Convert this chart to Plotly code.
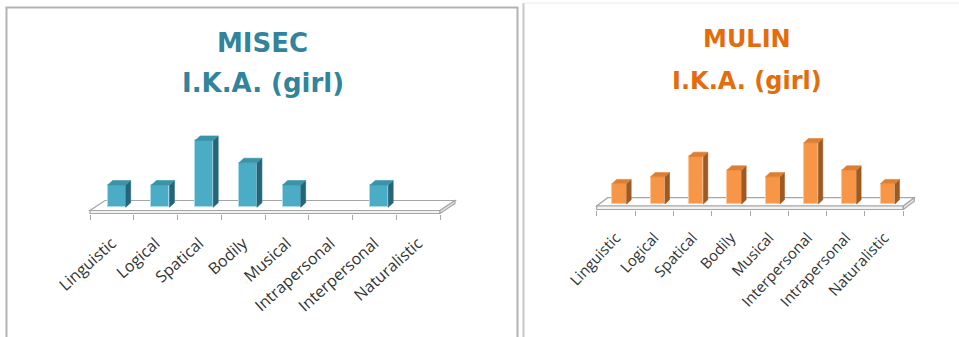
import plotly.graph_objects as go

# ---- data -------------------------------------------------------------
misec_categories = ["Linguistic", "Logical", "Spatical", "Bodily", "Musical",
                    "Intrapersonal", "Interpersonal", "Naturalistic"]
misec_values = [1, 1, 3, 2, 1, 0, 1, 0]

mulin_categories = ["Linguistic", "Logical", "Spatical", "Bodily", "Musical",
                    "Interpersonal", "Intrapersonal", "Naturalistic"]
mulin_values = [3, 4, 7, 5, 4, 9, 5, 3]

misec_title = ["MISEC", "I.K.A. (girl)"]
mulin_title = ["MULIN", "I.K.A. (girl)"]

# ---- page geometry (pixels) -------------------------------------------
W, H = 959, 337


def fx(p):
    return p / W


def fy(p):
    return 1 - p / H


panels = [
    dict(cats=misec_categories, vals=misec_values, title=misec_title,
         front="#4BACC6", side="#23667A", top="#3B93AA", edge="#A9DAE6",
         tcolor="#31849B", tsize=26, tx=262.5, ty=(43, 83),
         lsize=16, langle=-42, lstand=16,
         front_l=90.0, front_r=440.0, edge_y=213.5, slab=3.0,
         floor_dx=15.0, floor_dy=10.0, base_px=207.3, unit_px=22.3,
         bar_w=18.0, bar_shift=4.8, side_dx=5.0, side_dy=4.5,
         dom_l=70.0, dom_r=470.0, dom_top=110.0),
    dict(cats=mulin_categories, vals=mulin_values, title=mulin_title,
         front="#F79646", side="#9E5A22", top="#DC7F33", edge="#FBC79B",
         tcolor="#E46C0A", tsize=24, tx=747.0, ty=(39, 81),
         lsize=15, langle=-47, lstand=15,
         front_l=596.7, front_r=903.3, edge_y=209.5, slab=3.5,
         floor_dx=11.0, floor_dy=8.3, base_px=204.0, unit_px=6.8,
         bar_w=14.4, bar_shift=3.6, side_dx=4.5, side_dy=4.2,
         dom_l=580.0, dom_r=930.0, dom_top=110.0),
]

fig = go.Figure()
shapes = []
annotations = []

for k, p in enumerate(panels):
    n = len(p["cats"])
    xa = "x" if k == 0 else "x2"
    ya = "y" if k == 0 else "y2"
    xref_ax = "xaxis" if k == 0 else "xaxis2"
    yref_ax = "yaxis" if k == 0 else "yaxis2"

    cat_px = (p["front_r"] - p["front_l"]) / n

    def dx(px_, p=p, cat_px=cat_px):
        return -0.5 + (px_ - p["front_l"]) / cat_px

    def dy(px_, p=p):
        return (p["base_px"] - px_) / p["unit_px"]

    x_range = [dx(p["dom_l"]), dx(p["dom_r"])]
    y_bottom_px = p["edge_y"] + 0.5
    y_range = [dy(y_bottom_px), dy(p["dom_top"])]

    # floor slab: top face, front face and right side
    fl, fr = -0.5, n - 0.5
    ddx = p["floor_dx"] / cat_px
    y_front_top = dy(p["edge_y"] - p["slab"])
    y_front_bot = dy(p["edge_y"])
    y_back = dy(p["edge_y"] - p["slab"] - p["floor_dy"])
    y_back_bot = dy(p["edge_y"] - p["floor_dy"])
    floor_style = dict(type="path", xref=xa, yref=ya, layer="below",
                       line=dict(color="#A6A6A6", width=1.2))
    shapes.append(dict(floor_style,
                       path=f"M{fl},{y_front_top} L{fr},{y_front_top} "
                            f"L{fr + ddx},{y_back} L{fl + ddx},{y_back} Z",
                       fillcolor="#FFFFFF"))
    shapes.append(dict(floor_style,
                       path=f"M{fl},{y_front_bot} L{fr},{y_front_bot} "
                            f"L{fr},{y_front_top} L{fl},{y_front_top} Z",
                       fillcolor="#F2F2F2"))
    shapes.append(dict(floor_style,
                       path=f"M{fr},{y_front_bot} L{fr + ddx},{y_back_bot} "
                            f"L{fr + ddx},{y_back} L{fr},{y_front_top} Z",
                       fillcolor="#E6E6E6"))

    # bar front faces (empty categories get no outline)
    width = p["bar_w"] / cat_px
    offset = p["bar_shift"] / cat_px - width / 2
    idx = list(range(n))
    fig.add_trace(go.Bar(
        x=idx, y=p["vals"], base=0, width=width, offset=offset,
        marker=dict(color=p["front"],
                    line=dict(color=p["edge"],
                              width=[1 if v > 0 else 0 for v in p["vals"]])),
        xaxis=xa, yaxis=ya, showlegend=False, hoverinfo="skip"))

    # side and top faces built from the same values
    sdx = p["side_dx"] / cat_px
    sdy = p["side_dy"] / p["unit_px"]
    side_x, side_y, top_x, top_y = [], [], [], []
    for i, v in zip(idx, p["vals"]):
        if v <= 0:
            continue
        xl = i + offset
        xr = xl + width
        side_x += [xr, xr + sdx, xr + sdx, xr, xr, None]
        side_y += [0, sdy, v + sdy, v, 0, None]
        top_x += [xl, xr, xr + sdx, xl + sdx, xl, None]
        top_y += [v, v, v + sdy, v + sdy, v, None]
    fig.add_trace(go.Scatter(
        x=side_x, y=side_y, mode="lines", fill="toself",
        fillcolor=p["side"], line=dict(color=p["side"], width=0.6),
        xaxis=xa, yaxis=ya, showlegend=False, hoverinfo="skip"))
    fig.add_trace(go.Scatter(
        x=top_x, y=top_y, mode="lines", fill="toself",
        fillcolor=p["top"], line=dict(color=p["top"], width=0.6),
        xaxis=xa, yaxis=ya, showlegend=False, hoverinfo="skip"))

    fig.update_layout(**{
        xref_ax: dict(
            domain=[fx(p["dom_l"]), fx(p["dom_r"])], range=x_range,
            anchor=ya, tickmode="array", tickvals=idx, ticktext=p["cats"],
            ticks="", tickangle=p["langle"], showgrid=False, zeroline=False,
            showline=False, ticklabelstandoff=p["lstand"], automargin=False,
            tickfont=dict(family="Open Sans", size=p["lsize"], color="#333333"),
            minor=dict(tickmode="linear", tick0=-0.5, dtick=1, ticks="outside",
                       ticklen=5, tickwidth=1.2, tickcolor="#A6A6A6",
                       showgrid=False),
            fixedrange=True),
        yref_ax: dict(
            domain=[fy(y_bottom_px), fy(p["dom_top"])], range=y_range,
            anchor=xa, visible=False, automargin=False, fixedrange=True),
    })

    # two-line chart title
    for line_txt, ypx in zip(p["title"], p["ty"]):
        annotations.append(dict(
            text=line_txt, xref="paper", yref="paper", x=fx(p["tx"]),
            y=fy(ypx), xanchor="center", yanchor="middle", showarrow=False,
            font=dict(family="DejaVu Sans", size=p["tsize"], color=p["tcolor"],
                      weight="bold")))

# panel frames
shapes += [
    dict(type="rect", xref="paper", yref="paper",
         x0=fx(6.5), x1=fx(517.5), y0=fy(345), y1=fy(7.5),
         line=dict(color="#B3B3B3", width=2), fillcolor="rgba(0,0,0,0)",
         layer="below"),
    dict(type="line", xref="paper", yref="paper",
         x0=fx(523.5), x1=fx(523.5), y0=fy(345), y1=fy(3),
         line=dict(color="#C8C8C8", width=2)),
    dict(type="line", xref="paper", yref="paper",
         x0=fx(523.5), x1=fx(959), y0=fy(3), y1=fy(3),
         line=dict(color="#EBEBEB", width=1)),
]

fig.update_layout(
    width=W, height=H, margin=dict(l=0, r=0, t=0, b=0, autoexpand=False),
    paper_bgcolor="white", plot_bgcolor="rgba(0,0,0,0)",
    shapes=shapes, annotations=annotations, bargap=0,
)

fig.write_html(
    "out.html",
    post_script="document.body.style.margin='0px';"
                "document.body.style.overflow='hidden';",
)
